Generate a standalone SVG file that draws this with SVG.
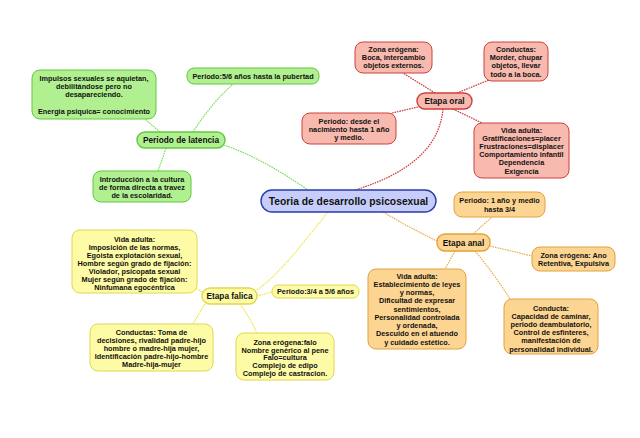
<svg xmlns="http://www.w3.org/2000/svg" width="640" height="438" viewBox="0 0 640 438">
<style>
text{font-family:"Liberation Sans",Arial,sans-serif;font-weight:bold;fill:#111;text-anchor:middle}
.t{font-size:7.3px}
.m{font-size:8.3px}
.c{font-size:10.3px}
.g rect{fill:#b0f090;stroke:#62c83e}
.r rect{fill:#f8b9ae;stroke:#cc4040}
.o rect{fill:#fdd592;stroke:#e2a23c}
.y rect{fill:#fdfba6;stroke:#e0d850}
rect{stroke-width:1}
.main rect{stroke-width:1.4}
#conn path{fill:none;stroke-width:1.2;stroke-dasharray:1.6 0.9}
.cg{stroke:#7ede58}
.cr{stroke:#cc3a3a}
.co{stroke:#e8b050}
.cy{stroke:#ece650}
</style>
<rect width="640" height="438" fill="#fff"/>
<g id="conn">
<path class="cg" d="M224,145 Q262,158 308,190"/>
<path class="cg" d="M193,132 Q210,105 233,84"/>
<path class="cg" d="M160,132 L145,119"/>
<path class="cg" d="M166,148 Q162,160 158,171"/>
<path class="cr" d="M443,109 C440,140 420,170 355,190"/>
<path class="cr" d="M435,93 L403,73"/>
<path class="cr" d="M457,93 L489,80"/>
<path class="cr" d="M418,107 L392,113"/>
<path class="cr" d="M453,109 L482,123"/>
<path class="co" d="M383,212 Q410,228 437,241"/>
<path class="co" d="M473,234 L492,217"/>
<path class="co" d="M490,246 L532,256"/>
<path class="co" d="M455,251 L445,269"/>
<path class="co" d="M475,251 Q495,275 510,299"/>
<path class="cy" d="M257,290 C282,272 305,240 328,212"/>
<path class="cy" d="M202,292 L193,287"/>
<path class="cy" d="M257,296 L272,292"/>
<path class="cy" d="M205,304 Q198,315 193,324"/>
<path class="cy" d="M240,304 Q250,318 257,333"/>
</g>
<g id="center" class="main">
<rect x="261" y="190" width="175" height="22" rx="11" fill="#c6cdfa" stroke="#2a3ca8" stroke-width="1.4"/>
<text class="c" x="348.5" y="204.5">Teoria de desarrollo psicosexual</text>
</g>
<g id="latencia" class="g main">
<rect x="137" y="132" width="88" height="16" rx="8"/>
<text class="m" x="181" y="143">Periodo de latencia</text>
</g>
<g id="lat-periodo" class="g">
<rect x="187" y="68" width="132" height="16" rx="7"/>
<text class="t" x="253" y="78.8">Periodo:5/6 años hasta la pubertad</text>
</g>
<g id="lat-impulsos" class="g">
<rect x="32" y="70" width="124" height="49" rx="8"/>
<text class="t" x="94" y="80.6">Impulsos sexuales se aquietan,</text>
<text class="t" x="94" y="88.8">debilitándose pero no</text>
<text class="t" x="94" y="97">desapareciendo.</text>
<text class="t" x="94" y="114.4">Energia psiquica= conocimiento</text>
</g>
<g id="lat-intro" class="g">
<rect x="93" y="171" width="98" height="31" rx="8"/>
<text class="t" x="142" y="181.6">Introducción a la cultura</text>
<text class="t" x="142" y="189.9">de forma directa a travez</text>
<text class="t" x="142" y="198.3">de la escolaridad.</text>
</g>
<g id="oral" class="r main">
<rect x="417" y="93" width="55" height="16" rx="8"/>
<text class="m" x="444.5" y="104">Etapa oral</text>
</g>
<g id="oral-zona" class="r">
<rect x="355" y="42" width="77" height="31" rx="8"/>
<text class="t" x="393.5" y="51.6">Zona erógena:</text>
<text class="t" x="393.5" y="59.9">Boca, intercambio</text>
<text class="t" x="393.5" y="68.2">objetos externos.</text>
</g>
<g id="oral-conductas" class="r">
<rect x="484" y="42" width="64" height="39" rx="8"/>
<text class="t" x="516" y="51.6">Conductas:</text>
<text class="t" x="516" y="59.9">Morder, chupar</text>
<text class="t" x="516" y="68.2">objetos, llevar</text>
<text class="t" x="516" y="76.5">todo a la boca.</text>
</g>
<g id="oral-periodo" class="r">
<rect x="302" y="113" width="94" height="31" rx="8"/>
<text class="t" x="349" y="123.6">Periodo: desde el</text>
<text class="t" x="349" y="131.9">nacimiento hasta 1 año</text>
<text class="t" x="349" y="140.2">y medio.</text>
</g>
<g id="oral-vida" class="r">
<rect x="474" y="123" width="95" height="55" rx="8"/>
<text class="t" x="521.5" y="132.6">Vida adulta:</text>
<text class="t" x="521.5" y="140.8">Gratificaciones=placer</text>
<text class="t" x="521.5" y="149">Frustraciones=displacer</text>
<text class="t" x="521.5" y="157.2">Comportamiento infantil</text>
<text class="t" x="521.5" y="165.4">Dependencia</text>
<text class="t" x="521.5" y="173.6">Exigencia</text>
</g>
<g id="anal" class="o main">
<rect x="437" y="234" width="53" height="17" rx="8"/>
<text class="m" x="463.5" y="245.5">Etapa anal</text>
</g>
<g id="anal-periodo" class="o">
<rect x="454" y="192" width="91" height="25" rx="8"/>
<text class="t" x="499.5" y="203.4">Periodo: 1 año y medio</text>
<text class="t" x="499.5" y="211.7">hasta 3/4</text>
</g>
<g id="anal-zona" class="o">
<rect x="532" y="247" width="83" height="24" rx="8"/>
<text class="t" x="573.5" y="257.6">Zona erógena: Ano</text>
<text class="t" x="573.5" y="265.8">Retentiva, Expulsiva</text>
</g>
<g id="anal-vida" class="o">
<rect x="368" y="269" width="98" height="80" rx="8"/>
<text class="t" x="417" y="278.7">Vida adulta:</text>
<text class="t" x="417" y="286.9">Establecimiento de leyes</text>
<text class="t" x="417" y="295.2">y normas,</text>
<text class="t" x="417" y="303.4">Dificultad de expresar</text>
<text class="t" x="417" y="311.7">sentimientos,</text>
<text class="t" x="417" y="319.9">Personalidad controlada</text>
<text class="t" x="417" y="328.2">y ordenada,</text>
<text class="t" x="417" y="336.4">Descuido en el atuendo</text>
<text class="t" x="417" y="344.7">y cuidado estético.</text>
</g>
<g id="anal-conducta" class="o">
<rect x="504" y="299" width="94" height="55" rx="8"/>
<text class="t" x="551" y="310.6">Conducta:</text>
<text class="t" x="551" y="318.8">Capacidad de caminar,</text>
<text class="t" x="551" y="327">periodo deambulatorio,</text>
<text class="t" x="551" y="335.2">Control de esfinteres,</text>
<text class="t" x="551" y="343.4">manifestación de</text>
<text class="t" x="551" y="351.6">personalidad individual.</text>
</g>
<g id="falica" class="y main">
<rect x="202" y="288" width="55" height="16" rx="8"/>
<text class="m" x="229.5" y="299">Etapa falica</text>
</g>
<g id="fal-vida" class="y">
<rect x="72" y="230" width="125" height="63" rx="8"/>
<text class="t" x="134.5" y="241.6">Vida adulta:</text>
<text class="t" x="134.5" y="249.6">Imposición de las normas,</text>
<text class="t" x="134.5" y="257.6">Egoista explotación sexual,</text>
<text class="t" x="134.5" y="265.6">Hombre según grado de fijación:</text>
<text class="t" x="134.5" y="273.6">Violador, psicopata sexual</text>
<text class="t" x="134.5" y="281.6">Mujer según grado de fijación:</text>
<text class="t" x="134.5" y="289.6">Ninfumana egocéntrica</text>
</g>
<g id="fal-periodo" class="y">
<rect x="272" y="285" width="87" height="13" rx="6"/>
<text class="t" x="315.5" y="294.3">Periodo:3/4 a 5/6 años</text>
</g>
<g id="fal-conductas" class="y">
<rect x="90" y="324" width="123" height="47" rx="8"/>
<text class="t" x="151.5" y="334.6">Conductas: Toma de</text>
<text class="t" x="151.5" y="342.8">decisiones, rivalidad padre-hijo</text>
<text class="t" x="151.5" y="351">hombre o madre-hija mujer,</text>
<text class="t" x="151.5" y="359.2">Identificación padre-hijo-hombre</text>
<text class="t" x="151.5" y="367.4">Madre-hija-mujer</text>
</g>
<g id="fal-zona" class="y">
<rect x="236" y="333" width="98" height="47" rx="8"/>
<text class="t" x="285" y="344.6">Zona erógena:falo</text>
<text class="t" x="285" y="352.5">Nombre genérico al pene</text>
<text class="t" x="285" y="360.4">Falo=cultura</text>
<text class="t" x="285" y="368.3">Complejo de edipo</text>
<text class="t" x="285" y="376.2">Complejo de castracion.</text>
</g>
</svg>
